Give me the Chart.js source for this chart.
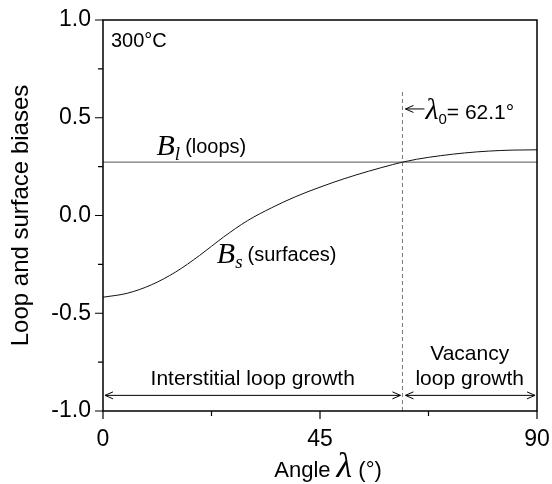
<!DOCTYPE html>
<html>
<head>
<meta charset="utf-8">
<script src="https://cdn.jsdelivr.net/npm/chart.js@4"></script>
<style>
html,body{margin:0;padding:0;background:#fff;}
</style>
</head>
<body>
<canvas id="mycanvas" width="552" height="484"></canvas>
<script>
// values
var angles = [0, 5, 10, 15, 20, 25, 30, 35, 40, 45, 50, 55, 60, 62.1, 65, 70, 75, 80, 85, 90];
var surfaceBias = [-0.418, -0.398, -0.355, -0.290, -0.205, -0.110, -0.026, 0.040, 0.097, 0.145, 0.188, 0.226, 0.260, 0.273, 0.2875, 0.306, 0.320, 0.3295, 0.3345, 0.336];
var loopBias = 0.273;
var lambda0 = 62.1;
var dashTop = 0.635;
var growthArrowY = -0.92;
var xLabels = [0, 45, 90];
var yLabels = [-1.0, -0.5, 0.0, 0.5, 1.0];

var SANS = '"Liberation Sans", Arial, sans-serif';
var SERIF = '"Liberation Serif", "Times New Roman", serif';

function arrowHead(c, x, y, dir) {
	c.beginPath();
	c.moveTo(x - dir * 8, y - 3.5);
	c.lineTo(x, y);
	c.lineTo(x - dir * 8, y + 3.5);
	c.stroke();
}

var extras = {
	id: 'extras',
	afterDraw: function(chart) {
		var c = chart.ctx, a = chart.chartArea;
		var xs = chart.scales.x, ys = chart.scales.y;
		c.save();

		// frame
		c.strokeStyle = '#000';
		c.lineWidth = 1.5;
		c.strokeRect(a.left, a.top, a.right - a.left, a.bottom - a.top);

		// outward ticks, major and minor
		c.lineWidth = 1.2;
		c.beginPath();
		xs.ticks.forEach(function(t) {
			var px = xs.getPixelForValue(t.value);
			var len = xLabels.indexOf(t.value) >= 0 ? 8 : 5;
			c.moveTo(px, a.bottom); c.lineTo(px, a.bottom + len);
		});
		ys.ticks.forEach(function(t) {
			var py = ys.getPixelForValue(t.value);
			var major = Math.abs(t.value * 2 - Math.round(t.value * 2)) < 1e-6;
			c.moveTo(a.left, py); c.lineTo(a.left - (major ? 8 : 5), py);
		});
		c.stroke();

		// growth region arrows
		var ay = ys.getPixelForValue(growthArrowY);
		var x0 = xs.getPixelForValue(0), xl = xs.getPixelForValue(lambda0), x9 = xs.getPixelForValue(90);
		c.lineWidth = 1;
		c.strokeStyle = '#000';
		[[x0 + 2, xl - 2], [xl + 3, x9 - 2]].forEach(function(seg) {
			c.beginPath(); c.moveTo(seg[0], ay); c.lineTo(seg[1], ay); c.stroke();
			arrowHead(c, seg[0], ay, -1);
			arrowHead(c, seg[1], ay, 1);
		});

		c.fillStyle = '#000';
		c.textBaseline = 'alphabetic';
		c.font = '21px ' + SANS;
		c.textAlign = 'center';
		c.fillText('Interstitial loop growth', (x0 + xl) / 2, ay - 10);
		c.fillText('loop growth', (xl + x9) / 2, ay - 10);
		c.fillText('Vacancy', (xl + x9) / 2, ay - 35);

		// temperature
		c.textAlign = 'left';
		c.font = '20px ' + SANS;
		c.fillText('300\u00B0C', a.left + 8, a.top + 27);

		// lambda0 marker
		var ly = ys.getPixelForValue(0.545);
		c.beginPath(); c.moveTo(xl + 3, ly); c.lineTo(xl + 22, ly); c.stroke();
		arrowHead(c, xl + 3, ly, -1);
		var tx = xl + 23, by = ly + 10;
		c.font = 'italic 30px ' + SERIF;
		c.fillText('\u03BB', tx, by);
		tx += c.measureText('\u03BB').width;
		c.font = '15px ' + SANS;
		c.fillText('0', tx, by + 5);
		tx += c.measureText('0').width;
		c.font = '21px ' + SANS;
		c.fillText('= 62.1\u00B0', tx, by);

		// curve labels
		function label(xv, yv, sub, txt) {
			var px = xs.getPixelForValue(xv), py = ys.getPixelForValue(yv);
			c.font = 'italic 30px ' + SERIF;
			c.fillText('B', px, py);
			px += c.measureText('B').width;
			c.font = 'italic 19px ' + SERIF;
			c.fillText(sub, px, py + 5);
			px += c.measureText(sub).width + 5;
			c.font = '20px ' + SANS;
			c.fillText(txt, px, py - 2);
		}
		label(11.1, 0.31, 'l', '(loops)');
		label(23.6, -0.245, 's', '(surfaces)');

		// axis titles
		c.save();
		c.translate(20, ys.getPixelForValue(0));
		c.rotate(-Math.PI / 2);
		c.textAlign = 'center';
		c.font = '24px ' + SANS;
		c.fillText('Loop and surface biases', 0, 8);
		c.restore();

		var parts = [['Angle ', '22px ' + SANS, 0], ['\u03BB', 'italic 36px ' + SERIF, 0], [' (\u00B0)', '22px ' + SANS, 0]];
		var total = 0;
		parts.forEach(function(p) { c.font = p[1]; p[2] = c.measureText(p[0]).width; total += p[2]; });
		var sx = 328 - total / 2;
		parts.forEach(function(p) { c.font = p[1]; c.fillText(p[0], sx, 477); sx += p[2]; });

		c.restore();
	}
};

var ctx = document.getElementById('mycanvas');

var chart = new Chart(ctx, {
	type: 'scatter',
	data: {
		datasets: [
			{
				label: 'Bs',
				data: angles.map(function(v, i) { return {x: v, y: surfaceBias[i]}; }),
				showLine: true,
				borderColor: '#111',
				borderWidth: 1,
				pointRadius: 0,
				cubicInterpolationMode: 'monotone'
			},
			{
				label: 'Bl',
				data: [{x: 0, y: loopBias}, {x: 90, y: loopBias}],
				showLine: true,
				borderColor: '#555',
				borderWidth: 1,
				pointRadius: 0
			},
			{
				label: 'lambda0',
				data: [{x: lambda0, y: -1}, {x: lambda0, y: dashTop}],
				showLine: true,
				borderColor: '#777',
				borderWidth: 1,
				borderDash: [4, 3],
				pointRadius: 0
			}
		]
	},
	options: {
		responsive: false,
		animation: false,
		events: [],
		layout: {padding: {left: 0, right: 15, top: 20, bottom: 0}},
		plugins: {legend: {display: false}, tooltip: {enabled: false}},
		scales: {
			x: {
				type: 'linear', min: 0, max: 90,
				afterFit: function(s) { s.height = 73; },
				border: {display: false},
				grid: {drawOnChartArea: false, tickLength: 14, tickColor: 'rgba(0,0,0,0)'},
				ticks: {
					stepSize: 22.5, autoSkip: false, maxRotation: 0, padding: 1,
					color: '#000', font: {family: SANS, size: 23},
					callback: function(v) { return xLabels.indexOf(v) >= 0 ? String(v) : ''; }
				}
			},
			y: {
				min: -1, max: 1,
				afterFit: function(s) { s.width = 103; },
				border: {display: false},
				grid: {drawOnChartArea: false, tickLength: 8, tickColor: 'rgba(0,0,0,0)'},
				ticks: {
					stepSize: 0.25, autoSkip: false, padding: 4,
					color: '#000', font: {family: SANS, size: 23},
					callback: function(v) {
						var hit = yLabels.filter(function(y) { return Math.abs(y - v) < 1e-6; });
						return hit.length ? v.toFixed(1) : '';
					}
				}
			}
		}
	},
	plugins: [extras]
});
</script>
</body>
</html>
